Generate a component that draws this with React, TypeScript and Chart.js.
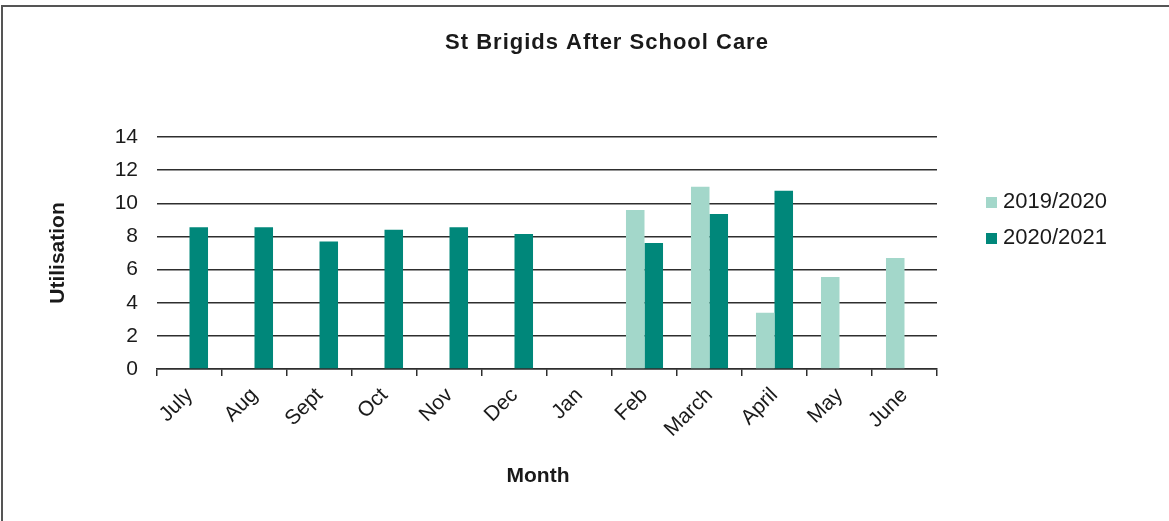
import React, { useEffect, useRef } from 'react';
import { Chart, registerables } from 'chart.js';

Chart.register(...registerables);

const months = ['July', 'Aug', 'Sept', 'Oct', 'Nov', 'Dec', 'Jan', 'Feb', 'March', 'April', 'May', 'June'];
const seriesNames = ['2019/2020', '2020/2021'];
const values2019 = [null, null, null, null, null, null, null, 9.6, 11.0, 3.4, 5.55, 6.7];
const values2020 = [8.55, 8.55, 7.7, 8.4, 8.55, 8.15, null, 7.6, 9.35, 10.75, null, null];
const seriesColors = ['#a3d7ca', '#00877a'];
const yMin = 0;
const yMax = 14;
const yStep = 2;
const chartTitle = 'St Brigids After School Care';
const xTitle = 'Month';
const yTitle = 'Utilisation';

const FONT = '"Liberation Sans", Arial, sans-serif';
const TEXT = '#1a1a1a';
const GRID = '#2e2e2e';

const titlePlugin = {
  id: 'customTitle',
  afterDraw(chart: any) {
    const ctx = chart.ctx;
    ctx.save();
    ctx.font = `bold 22px ${FONT}`;
    (ctx as any).letterSpacing = '1px';
    ctx.fillStyle = TEXT;
    ctx.textAlign = 'center';
    ctx.textBaseline = 'middle';
    ctx.fillText(chartTitle, 607, 43);
    (ctx as any).letterSpacing = '0px';
    ctx.font = `bold 21px ${FONT}`;
    ctx.fillText(xTitle, 538, 476);
    ctx.restore();
  },
};

const legendPlugin = {
  id: 'customLegend',
  afterDraw(chart: any) {
    const ctx = chart.ctx;
    ctx.save();
    ctx.font = `22px ${FONT}`;
    ctx.textAlign = 'left';
    ctx.textBaseline = 'alphabetic';
    chart.data.datasets.forEach((ds: any, i: number) => {
      const baseY = 208 + i * 36;
      ctx.fillStyle = ds.backgroundColor;
      ctx.fillRect(986, baseY - 11, 11, 11);
      ctx.fillStyle = TEXT;
      ctx.fillText(ds.label, 1003, baseY);
    });
    ctx.restore();
  },
};

export default function App() {
  const canvasRef = useRef<HTMLCanvasElement | null>(null);

  useEffect(() => {
    if (!canvasRef.current) return;
    const chart = new Chart(canvasRef.current, {
      type: 'bar',
      data: {
        labels: months,
        datasets: [
          { label: seriesNames[0], data: values2019 as any, backgroundColor: seriesColors[0] },
          { label: seriesNames[1], data: values2020 as any, backgroundColor: seriesColors[1] },
        ],
      },
      options: {
        responsive: false,
        animation: false,
        devicePixelRatio: 1,
        layout: { padding: { left: 0, right: 232, top: 137, bottom: 0 } },
        datasets: {
          bar: { categoryPercentage: 0.57, barPercentage: 1 },
        } as any,
        plugins: {
          legend: { display: false },
          title: { display: false },
          tooltip: { enabled: false },
        },
        scales: {
          x: {
            afterFit: (scale: any) => {
              scale.height = 152;
            },
            grid: {
              display: true,
              drawOnChartArea: false,
              drawTicks: true,
              tickLength: 7,
              color: GRID,
              lineWidth: 1.5,
              offset: true,
            },
            border: { display: true, color: GRID, width: 1.5 },
            ticks: {
              minRotation: 45,
              maxRotation: 45,
              autoSkip: false,
              padding: 7,
              color: TEXT,
              font: { family: FONT, size: 21 },
            },
            title: { display: false, text: xTitle },
          },
          y: {
            min: yMin,
            max: yMax,
            afterFit: (scale: any) => {
              scale.width = 157;
            },
            grid: {
              display: true,
              drawTicks: false,
              color: GRID,
              lineWidth: 1.5,
            },
            border: { display: false },
            ticks: {
              stepSize: yStep,
              padding: 19,
              color: TEXT,
              font: { family: FONT, size: 21 },
            },
            title: {
              display: true,
              text: yTitle,
              color: TEXT,
              font: { family: FONT, size: 21, weight: 'bold' },
              padding: { top: 46, bottom: 0 },
            },
          },
        },
      },
      plugins: [titlePlugin, legendPlugin],
    });
    return () => chart.destroy();
  }, []);

  return (
    <div
      style={{
        position: 'fixed',
        left: 0,
        top: 0,
        width: 1169,
        height: 521,
        overflow: 'hidden',
        background: '#ffffff',
      }}
    >
      <div
        style={{
          position: 'absolute',
          left: 1,
          top: 5,
          width: 1300,
          height: 700,
          border: '2px solid #555555',
          boxSizing: 'border-box',
        }}
      />
      <canvas
        ref={canvasRef}
        width={1169}
        height={521}
        style={{ position: 'absolute', left: 0, top: 0, width: 1169, height: 521 }}
      />
    </div>
  );
}
